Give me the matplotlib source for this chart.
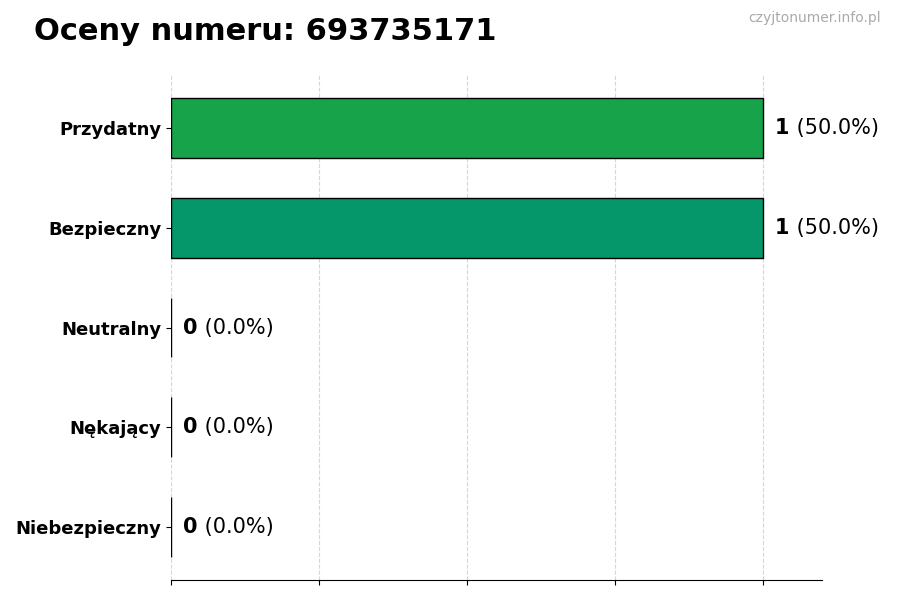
import matplotlib
matplotlib.use("Agg")
import matplotlib.pyplot as plt

categories = ["Niebezpieczny", "Nękający", "Neutralny", "Bezpieczny", "Przydatny"]
counts = [0, 0, 0, 1, 1]
colors = ["#dc2626", "#ea580c", "#9ca3af", "#059669", "#16a34a"]
phone = "693735171"

total = sum(counts)
fig = plt.figure(figsize=(9, 6), dpi=100)
ax = fig.add_axes([0.19, 0.0333, 0.723, 0.8417])

ypos = range(len(categories))
ax.barh(ypos, counts, height=0.6, color=colors, edgecolor="black", linewidth=1, zorder=2)
ax.set_yticks(list(ypos))
ax.set_yticklabels(categories, fontsize=13, fontweight="bold")
ax.set_xlim(0, max(counts) * 1.1)
ax.set_xticks([0, 0.25, 0.5, 0.75, 1.0])
ax.set_xticklabels([])
ax.grid(axis="x", linestyle="--", color="#bbbbbb", alpha=0.6, linewidth=0.8, zorder=3)
for s in ["top", "right", "left"]:
    ax.spines[s].set_visible(False)

for y, c in zip(ypos, counts):
    pct = c / total * 100
    t = ax.annotate(str(c), xy=(c, y), xytext=(9, 0), textcoords="offset points",
                    va="center", ha="left", fontsize=15, fontweight="bold")
    ax.annotate(" (%.1f%%)" % pct, xy=(1, 0.5), xycoords=t, va="center", ha="left",
                fontsize=15)

fig.text(0.038, 0.947, "Oceny numeru: " + phone, fontsize=22, fontweight="bold", va="center")
fig.text(0.979, 0.97, "czyjtonumer.info.pl", fontsize=10, color="#aaaaaa", ha="right", va="center")

fig.savefig("out.png")
